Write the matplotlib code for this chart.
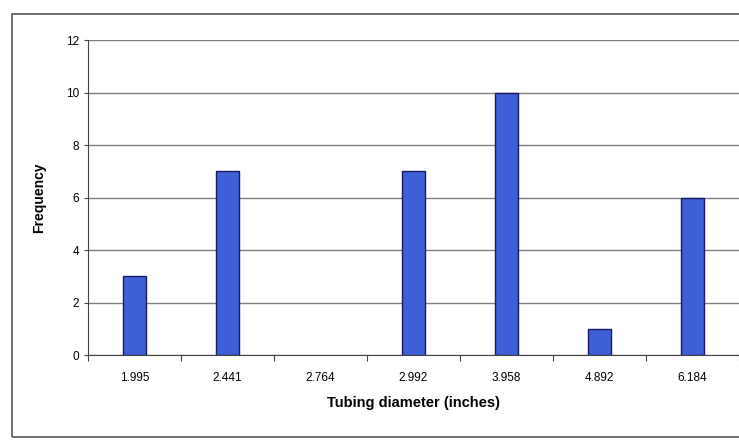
import matplotlib.pyplot as plt
from matplotlib.patches import Rectangle
import numpy as np

# datos
diametros = ['1.995', '2.441', '2.764', '2.992', '3.958', '4.892', '6.184']
frecuencia = [3, 7, 0, 7, 10, 1, 6]

plt.rcParams['font.family'] = ['Liberation Sans', 'DejaVu Sans']

fig = plt.figure(figsize=(7.39, 4.40), dpi=100)
ax = fig.add_axes([0.119, 0.193, 0.881, 0.716])

# marco exterior del grafico (estilo Excel)
fig.patches.append(Rectangle((0.016, 0.006), 1.2, 0.962, transform=fig.transFigure,
                             fill=False, edgecolor='#555555', linewidth=1.2, zorder=0))

x = np.arange(len(diametros))
barras = ax.bar(x, frecuencia, width=0.24, color='#3f5fd6', edgecolor='#1a1a60', linewidth=1.0, zorder=3)
# Excel no dibuja nada para una barra de altura cero
for b, f in zip(barras, frecuencia):
    if f == 0:
        b.set_visible(False)

ax.set_xlim(-0.5, len(diametros) - 0.5)
ax.set_ylim(0, 12)
ax.set_yticks(range(0, 13, 2))
ax.yaxis.grid(True, color='#808080', linewidth=1.0, zorder=0)

# ticks del eje x entre categorias
ax.set_xticks(np.arange(-0.5, len(diametros)), minor=False)
ax.set_xticklabels([])
ax.set_xticks(x, minor=True)
ax.set_xticklabels(diametros, minor=True, fontsize=8.5)
ax.tick_params(axis='x', which='major', length=4, direction='out', color='#444444')
ax.tick_params(axis='x', which='minor', length=0, pad=12)
ax.tick_params(axis='y', length=3, direction='out', labelsize=8.5, color='#444444')

for s in ['top', 'right']:
    ax.spines[s].set_visible(False)
ax.spines['left'].set_color('#444444')
ax.spines['bottom'].set_color('#444444')

ax.set_ylabel('Frequency', fontsize=10, fontweight='bold', labelpad=14)
ax.set_xlabel('Tubing diameter (inches)', fontsize=10.5, fontweight='bold', labelpad=9)

plt.savefig('out.png', dpi=100)
